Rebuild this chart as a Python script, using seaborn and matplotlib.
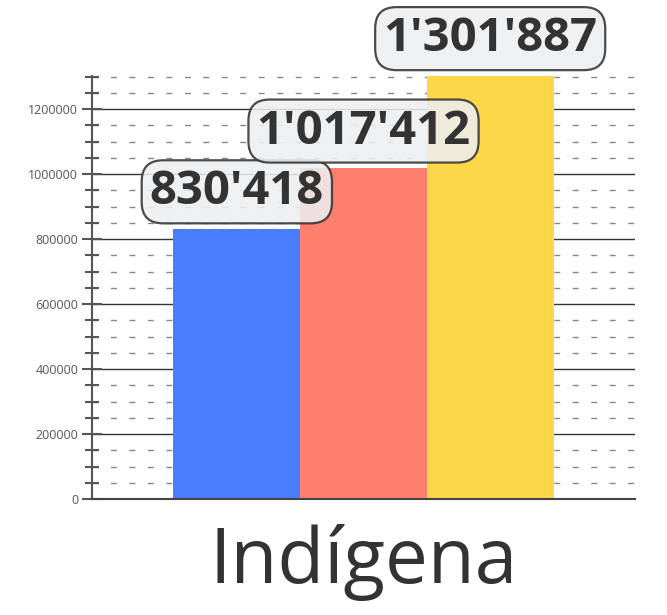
import matplotlib
matplotlib.use("Agg")
import matplotlib.pyplot as plt
from matplotlib.ticker import MultipleLocator, FuncFormatter
import seaborn as sns
import pandas as pd

categories = ["Indígena", "Indígena", "Indígena"]
series = ["Serie 1", "Serie 2", "Serie 3"]
values = [830418, 1017412, 1301887]
colors = ["#4a7dfe", "#ff7f6e", "#fdd74a"]

df = pd.DataFrame({"cat": categories, "serie": series, "valor": values})

sns.set_style("white")
plt.rcParams["font.family"] = ["Open Sans", "DejaVu Sans"]

fig = plt.figure(figsize=(6.67, 6.15), dpi=100)
ax = fig.add_axes([0.138, 0.1886, 0.814, 0.6878])

sns.barplot(data=df, x="cat", y="valor", hue="serie", palette=colors,
            width=0.7, legend=False, ax=ax, saturation=1, zorder=2, linewidth=0)

ax.set_ylim(0, max(values))
ax.set_xlim(-0.5, 0.5)
ax.yaxis.set_major_locator(MultipleLocator(200000))
ax.yaxis.set_minor_locator(MultipleLocator(50000))
ax.yaxis.set_major_formatter(FuncFormatter(lambda v, p: f"{int(v)}"))
ax.set_axisbelow(True)
ax.grid(which="major", axis="y", color="#333333", lw=1.0, zorder=0)
ax.grid(which="minor", axis="y", color="#888888", lw=1.0, ls=(0, (4.3, 9)), zorder=0)
ax.grid(which="both", axis="x", visible=False)

for s in ["top", "right"]:
    ax.spines[s].set_visible(False)
ax.spines["left"].set_color("#555555")
ax.spines["left"].set_linewidth(1.5)
ax.spines["bottom"].set_color("#444444")
ax.spines["bottom"].set_linewidth(1.5)

ax.tick_params(axis="y", which="major", direction="inout", length=14, width=1.5,
               color="#555555", labelsize=9, labelcolor="#555555", left=True, pad=3)
ax.tick_params(axis="y", which="minor", direction="inout", length=10, width=1.5,
               color="#555555", left=True)
ax.tick_params(axis="x", length=0, labelsize=55, labelcolor="#333333", pad=18)
ax.set_xlabel("")
ax.set_ylabel("")

def fmt(v):
    return f"{int(round(v)):,}".replace(",", "'")

for cont in ax.containers:
    for bar in cont:
        h = bar.get_height()
        cx = bar.get_x() + bar.get_width() / 2
        ax.annotate(fmt(h), xy=(cx, h), xytext=(0, 10), textcoords="offset points",
                    ha="center", va="bottom", fontsize=34, fontweight="bold",
                    color="#333333", zorder=5,
                    bbox=dict(boxstyle="round,pad=0.17,rounding_size=0.45",
                              fc="#eceef0", ec="#333333", lw=1.6, alpha=0.88))

fig.savefig("out.png", dpi=100)
